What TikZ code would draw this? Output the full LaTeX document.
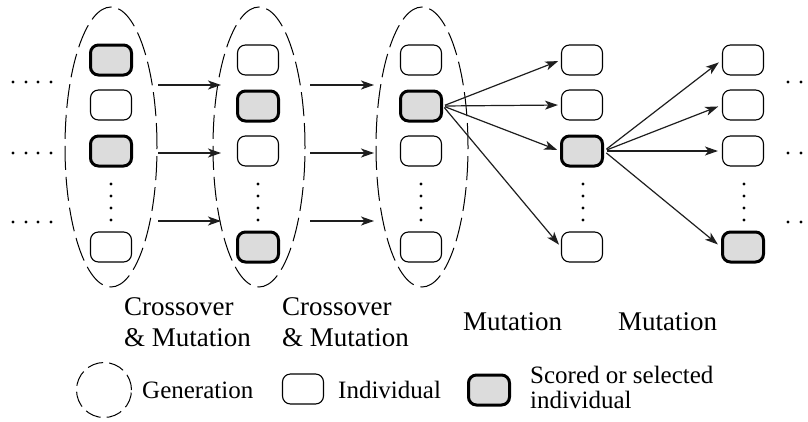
\documentclass[tikz,border=0pt]{standalone}
\usepackage{fontspec}
\setmainfont{Liberation Serif}
\newfontfamily\labelfont{Liberation Serif}
\usetikzlibrary{arrows.meta,shapes.geometric}
\definecolor{selgray}{HTML}{DCDCDC}
\definecolor{arrgray}{HTML}{1E1E1E}
\tikzset{
  indiv/.style={draw, rounded corners=8pt, minimum width=41pt, minimum height=30pt,
    inner sep=0pt, line width=1.1pt},
  chosen/.style={indiv, fill=selgray, line width=3pt},
  gen/.style={draw, ellipse, inner sep=0pt, line width=1pt,
    dash pattern=on 24pt off 7pt},
  arr/.style={draw=arrgray, line width=1.2pt,
    -{Stealth[length=13pt,width=9pt,inset=3.5pt]}},
  lbl/.style={inner sep=0pt, font=\labelfont\fontsize{27}{31}\selectfont},
  leg/.style={inner sep=0pt, font=\labelfont\fontsize{25}{25}\selectfont},
  dotc/.style={fill=black}
}
\begin{document}
\begin{tikzpicture}[x=1pt,y=-1pt]
\useasboundingbox (0,0) rectangle (808,421);

% generations (dashed ellipses)
\node[gen, minimum width=92pt, minimum height=280pt] (g1) at (111,147) {};
\node[gen, minimum width=92pt, minimum height=280pt] (g2) at (259,147) {};
\node[gen, minimum width=92pt, minimum height=280pt] (g3) at (422,147) {};

% column 1
\node[chosen] (c1r1) at (111,60) {};
\node[indiv]  (c1r2) at (111,105) {};
\node[chosen] (c1r3) at (111,151) {};
\node[indiv]  (c1r4) at (111,247) {};
% column 2
\node[indiv]  (c2r1) at (258,60) {};
\node[chosen] (c2r2) at (258,106) {};
\node[indiv]  (c2r3) at (258,151) {};
\node[chosen] (c2r4) at (258,247) {};
% column 3
\node[indiv]  (c3r1) at (421,60) {};
\node[chosen] (c3r2) at (421,106) {};
\node[indiv]  (c3r3) at (421,151) {};
\node[indiv]  (c3r4) at (421,247) {};
% column 4
\node[indiv]  (c4r1) at (582,60) {};
\node[indiv]  (c4r2) at (582,105) {};
\node[chosen] (c4r3) at (582,151) {};
\node[indiv]  (c4r4) at (582,247) {};
% column 5
\node[indiv]  (c5r1) at (743,60) {};
\node[indiv]  (c5r2) at (743,105) {};
\node[indiv]  (c5r3) at (743,151) {};
\node[chosen] (c5r4) at (743,247) {};

% vertical ellipsis dots in each column
\foreach \x in {111,258,421,583,744}
  \foreach \y in {184,196,208,220}
    \fill[dotc] (\x,\y) circle (1.7pt);

% horizontal ellipsis dots on the left and right
\foreach \y in {82,153,222} {
  \foreach \x in {13,26,38,51}
    \fill[dotc] (\x,\y) circle (1.7pt);
  \foreach \x in {788,801}
    \fill[dotc] (\x,\y) circle (1.7pt);
}

% crossover & mutation arrows between generations
\foreach \y [count=\i] in {85,153,221} {
  \coordinate (a\i s) at (158,\y);
  \coordinate (a\i e) at (221,\y);
  \coordinate (b\i s) at (310,\y);
  \coordinate (b\i e) at (374,\y);
  \draw[arr] (a\i s) -- (a\i e);
  \draw[arr] (b\i s) -- (b\i e);
}

% mutation fans
\foreach \j in {1,2,3,4}
  \draw[arr, shorten >=3pt, shorten <=2pt] (c3r2.east) -- (c4r\j.west);
\foreach \j in {1,2,3,4}
  \draw[arr, shorten >=4pt, shorten <=3pt] (c4r3.east) -- (c5r\j.west);

% operator labels
\node[lbl, anchor=north west, align=left] (l1) at (124,297) {Crossover\\\& Mutation};
\node[lbl, anchor=north west, align=left] (l2) at (282,297) {Crossover\\\& Mutation};
\node[lbl, anchor=base west] (l3) at (463,330) {Mutation};
\node[lbl, anchor=base west] (l4) at (618,330) {Mutation};

% legend
\node[draw, circle, minimum size=55pt, inner sep=0pt, line width=1pt,
  dash pattern=on 16pt off 6pt] (kgen) at (104,390) {};
\node[leg, anchor=base west] (tgen) at (142,398) {Generation};
\node[indiv] (kind) at (303,389) {};
\node[leg, anchor=base west] (tind) at (338,398) {Individual};
\node[chosen] (ksel) at (489,390) {};
\node[leg, anchor=north west, align=left] (tsel) at (530,366) {Scored or selected\\individual};
\end{tikzpicture}
\end{document}
